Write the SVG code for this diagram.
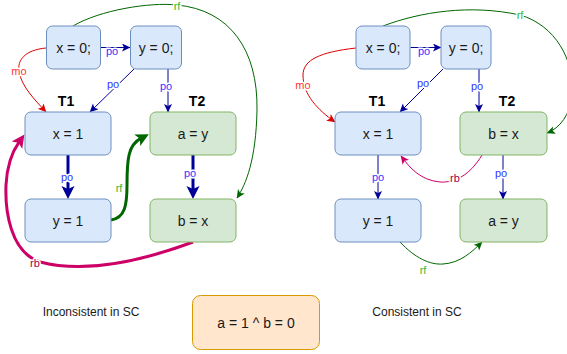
<svg xmlns="http://www.w3.org/2000/svg" width="567" height="354" viewBox="0 0 567 354">
<style>
.b{fill:#dae8fc;stroke:#6c8ebf;stroke-width:1}
.g{fill:#d5e8d4;stroke:#82b366;stroke-width:1}
.o{fill:#ffe6cc;stroke:#d79b00;stroke-width:1}
.t{font-family:"Liberation Sans",Arial,sans-serif;font-size:14px;fill:#1a1a1a;text-anchor:middle}
.h{font-family:"Liberation Sans",Arial,sans-serif;font-size:14px;font-weight:bold;fill:#000;text-anchor:middle}
.c{font-family:"Liberation Sans",Arial,sans-serif;font-size:12px;fill:#1a1a1a;text-anchor:middle}
.l{font-family:"Liberation Sans",Arial,sans-serif;font-size:11px;text-anchor:middle;paint-order:stroke;stroke:#fff;stroke-width:3px;stroke-linejoin:round}
.lpo{fill:#3333ff}.lrf{fill:#33bb33}.lrb{fill:#99004d}.lmo{fill:#ff3333}
.po{fill:none;stroke:#000099;stroke-width:1}
.pot{fill:none;stroke:#000099;stroke-width:3}
.rf{fill:none;stroke:#006600;stroke-width:1}
.rft{fill:none;stroke:#006600;stroke-width:3}
.rb{fill:none;stroke:#cc0066;stroke-width:1}
.rbt{fill:none;stroke:#cc0066;stroke-width:3}
.mo{fill:none;stroke:#dd0000;stroke-width:1}
</style>
<defs>
<marker id="aPo" markerUnits="userSpaceOnUse" markerWidth="10" markerHeight="10" refX="8" refY="4" orient="auto"><path d="M0,0 L8.5,4 L0,8 L2,4 Z" fill="#000099"/></marker>
<marker id="aRf" markerUnits="userSpaceOnUse" markerWidth="10" markerHeight="10" refX="8" refY="4" orient="auto"><path d="M0,0 L8.5,4 L0,8 L2,4 Z" fill="#006600"/></marker>
<marker id="aRb" markerUnits="userSpaceOnUse" markerWidth="10" markerHeight="10" refX="8" refY="4" orient="auto"><path d="M0,0 L8.5,4 L0,8 L2,4 Z" fill="#cc0066"/></marker>
<marker id="aMo" markerUnits="userSpaceOnUse" markerWidth="10" markerHeight="10" refX="8" refY="4" orient="auto"><path d="M0,0 L8.5,4 L0,8 L2,4 Z" fill="#dd0000"/></marker>
<marker id="aPoT" markerUnits="userSpaceOnUse" markerWidth="16" markerHeight="16" refX="4" refY="6.5" orient="auto"><path d="M0,0 L13,6.5 L0,13 L3,6.5 Z" fill="#000099"/></marker>
<marker id="aRfT" markerUnits="userSpaceOnUse" markerWidth="16" markerHeight="16" refX="4" refY="6.5" orient="auto"><path d="M0,0 L13,6.5 L0,13 L3,6.5 Z" fill="#006600"/></marker>
<marker id="aRbT" markerUnits="userSpaceOnUse" markerWidth="16" markerHeight="16" refX="4" refY="6.5" orient="auto"><path d="M0,0 L13,6.5 L0,13 L3,6.5 Z" fill="#cc0066"/></marker>
</defs>

<g id="connectors">
<!-- left panel -->
<path class="po" d="M100.5,47.5 L130,47.5" marker-end="url(#aPo)"/>
<path class="po" d="M134,69 L90,112" marker-end="url(#aPo)"/>
<path class="po" d="M168,69 L168,112" marker-end="url(#aPo)"/>
<path class="pot" d="M68,155 L68,190" marker-end="url(#aPoT)"/>
<path class="pot" d="M193,155 L193,190" marker-end="url(#aPoT)"/>
<path class="rft" d="M111,220 C125,218 127,205 127,185 C127,160 128,145 140.8,138.4" marker-end="url(#aRfT)"/>
<path class="rf" d="M73,26 C100,10 150,2 177,5 C230,10 258,50 257,110 C256,160 246,184 237,198" marker-end="url(#aRf)"/>
<path class="rbt" d="M193,242 C150,258 90,275 40,262 C10,252 5,210 6,185 C7,165 12,152 19.2,141.9" marker-end="url(#aRbT)"/>
<path class="mo" d="M46,48 C25,50 17,60 19,72 C22,87 35,100 46,112" marker-end="url(#aMo)"/>
<!-- right panel -->
<path class="po" d="M410.5,47.5 L441,47.5" marker-end="url(#aPo)"/>
<path class="po" d="M443,69 L400,112" marker-end="url(#aPo)"/>
<path class="po" d="M479,69 L479,112" marker-end="url(#aPo)"/>
<path class="po" d="M378,155 L378,199" marker-end="url(#aPo)"/>
<path class="po" d="M503,155 L503,199" marker-end="url(#aPo)"/>
<path class="rb" d="M482,155 C470,175 455,183 440,182 C420,180 410,168 401,156" marker-end="url(#aRb)"/>
<path class="rf" d="M400,242 C415,258 430,265 443,264 C460,263 472,252 482,242" marker-end="url(#aRf)"/>
<path class="rf" d="M383,26 C420,12 470,4 520,15 C555,25 575,60 572,95 C570,115 560,128 547,133" marker-end="url(#aRf)"/>
<path class="mo" d="M356,48 C320,52 303,60 303,75 C303,95 318,110 335,122" marker-end="url(#aMo)"/>
</g>

<g id="labels">
<text class="l lpo" x="112" y="55">po</text>
<text class="l lpo" x="113" y="88">po</text>
<text class="l lpo" x="166" y="90">po</text>
<text class="l lpo" x="67" y="181">po</text>
<text class="l lpo" x="190" y="177">po</text>
<text class="l lrf" x="119" y="192">rf</text>
<text class="l lrf" x="177" y="9.5">rf</text>
<text class="l lrb" x="35" y="267">rb</text>
<text class="l lmo" x="19" y="75">mo</text>
<text class="l lpo" x="424" y="55">po</text>
<text class="l lpo" x="423" y="87">po</text>
<text class="l lpo" x="477" y="90">po</text>
<text class="l lpo" x="378" y="181">po</text>
<text class="l lpo" x="501" y="177">po</text>
<text class="l lrb" x="455" y="182">rb</text>
<text class="l lrf" x="423" y="274">rf</text>
<text class="l lrf" x="520" y="19">rf</text>
<text class="l lmo" x="303" y="89">mo</text>
</g>

<g id="L_x0"><rect class="b" x="46.5" y="26" width="54" height="43" rx="6"/><text class="t" x="73.5" y="52.5">x = 0;</text></g>
<g id="L_y0"><rect class="b" x="130.5" y="26" width="51" height="43" rx="6"/><text class="t" x="156" y="52.5">y = 0;</text></g>
<g id="L_T1"><text class="h" x="66" y="106">T1</text></g>
<g id="L_T2"><text class="h" x="197" y="106">T2</text></g>
<g id="L_x1"><rect class="b" x="25" y="112" width="86" height="43" rx="6"/><text class="t" x="68" y="138.5">x = 1</text></g>
<g id="L_y1"><rect class="b" x="25" y="199" width="86" height="43" rx="6"/><text class="t" x="68" y="225.5">y = 1</text></g>
<g id="L_ay"><rect class="g" x="150" y="112" width="86" height="43" rx="6"/><text class="t" x="193" y="138.5">a = y</text></g>
<g id="L_bx"><rect class="g" x="150" y="199" width="86" height="43" rx="6"/><text class="t" x="193" y="225.5">b = x</text></g>

<g id="R_x0"><rect class="b" x="356" y="26" width="54" height="43" rx="6"/><text class="t" x="383" y="52.5">x = 0;</text></g>
<g id="R_y0"><rect class="b" x="441" y="26" width="50" height="43" rx="6"/><text class="t" x="466" y="52.5">y = 0;</text></g>
<g id="R_T1"><text class="h" x="377" y="106">T1</text></g>
<g id="R_T2"><text class="h" x="507" y="106">T2</text></g>
<g id="R_x1"><rect class="b" x="335" y="112" width="86" height="43" rx="6"/><text class="t" x="378" y="138.5">x = 1</text></g>
<g id="R_bx"><rect class="g" x="460" y="112" width="87" height="43" rx="6"/><text class="t" x="503.5" y="138.5">b = x</text></g>
<g id="R_y1"><rect class="b" x="335" y="199" width="86" height="43" rx="6"/><text class="t" x="378" y="225.5">y = 1</text></g>
<g id="R_ay"><rect class="g" x="460" y="199" width="87" height="43" rx="6"/><text class="t" x="503.5" y="225.5">a = y</text></g>

<g id="cap_left"><text class="c" x="91" y="316">Inconsistent in SC</text></g>
<g id="cap_right"><text class="c" x="417" y="316">Consistent in SC</text></g>
<g id="result"><rect class="o" x="192.5" y="295.5" width="127" height="54" rx="8"/><text class="t" x="256" y="328">a = 1 ^ b = 0</text></g>
</svg>
